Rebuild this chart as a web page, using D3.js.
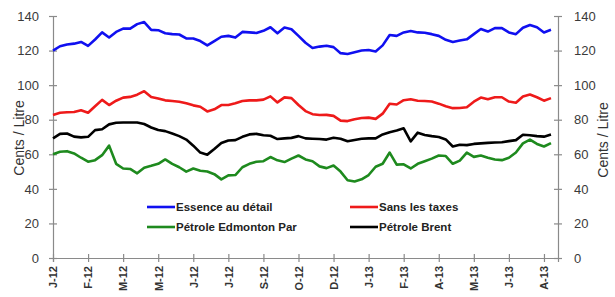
<!DOCTYPE html>
<html>
<head>
<meta charset="utf-8">
<script src="https://cdn.jsdelivr.net/npm/d3@7/dist/d3.min.js"></script>
<style>
body { margin: 0; background: #fff; }
svg { display: block; font-family: "Liberation Sans", Arial, sans-serif; }
</style>
</head>
<body>
<div class="chart"></div>
<script>
// valeurs hebdomadaires, cents / litre
var essence = [120, 122.5, 123.5, 124, 125, 122.7, 126.4, 130.5, 127.6, 130.8,
  132.7, 132.7, 135.3, 136.5, 132, 131.8, 130, 129.5, 129.3, 127,
  127, 125.5, 123, 125.5, 128, 128.5, 127.5, 130.8, 130.5, 130.2,
  131.4, 133.5, 130, 133.3, 132.3, 128.5, 124.5, 121.5, 122.3, 122.8,
  122, 118.5, 118, 119, 120, 120.3, 119.5, 123, 129, 128.5,
  130.5, 131.3, 130.5, 130.3, 129.5, 128.5, 126.2, 125, 125.8, 126.5,
  129.5, 132.5, 131, 133, 133, 130.5, 129.5, 133.2, 134.8, 133.5,
  130.5, 132];
var sansTaxes = [82.7, 84, 84.3, 84.5, 85.5, 84, 87.8, 91.5, 88.5, 91,
  92.8, 93.2, 94.5, 96.5, 93.2, 92.3, 91.2, 90.8, 90.4, 89.5,
  88.3, 87.5, 84.8, 86, 88.5, 88.5, 89.5, 90.8, 91.2, 91.2,
  91.6, 93.5, 90, 92.9, 92.5, 88.5, 85, 83.2, 82.7, 82.8,
  82.2, 79.5, 79.2, 80.3, 81, 81.2, 80.5, 83.5, 89.2, 88.8,
  91.3, 91.8, 91, 90.8, 90.5, 89.3, 87.8, 86.7, 86.8, 87.2,
  90.4, 92.8, 91.8, 93, 93, 90.5, 89.8, 93.4, 94.6, 93,
  91, 92.5];
var edmonton = [60, 61.5, 61.8, 60.5, 58, 55.7, 56.6, 59.5, 65, 54.5,
  51.8, 51.5, 49, 52.2, 53.3, 54.5, 57, 54.5, 52.5, 50,
  51.8, 50.5, 50, 48.5, 45.5, 47.8, 48, 52.5, 54.5, 55.7,
  56, 58.4, 56.5, 55.5, 57.5, 59.3, 57, 56, 53, 52,
  53.5, 50, 45, 44.3, 45.5, 48, 52.8, 54.5, 61, 54,
  54.2, 51.8, 54.5, 56, 57.5, 59.3, 59, 54.5, 56.3, 61,
  58.5, 59.3, 58, 57, 56.6, 58, 61, 66.3, 68.5, 66,
  64.5, 66.5];
var brent = [69.2, 71.8, 72, 70.2, 69.8, 70.1, 74, 74.5, 77.3, 78.2,
  78.4, 78.4, 78.4, 77.5, 75.5, 74, 73.4, 72, 70.5, 68.5,
  65, 61, 59.8, 63, 66.5, 68, 68.2, 70.1, 71.5, 71.8,
  71, 70.7, 68.8, 69.2, 69.5, 70.5, 69.2, 69, 68.8, 68.5,
  69.6, 69, 67.5, 68.3, 69, 69.2, 69.2, 71.5, 72.8, 73.8,
  75, 67.5, 72.5, 71.2, 70.5, 70, 68.6, 64.5, 65.5, 65.3,
  66, 66.3, 66.6, 66.8, 67, 67.6, 68.2, 71.3, 71, 70.5,
  70.2, 71.4];

var tickLabels = ["J-12", "F-12", "M-12", "M-12", "J-12", "J-12", "S-12", "O-12",
  "D-12", "J-13", "F-13", "A-13", "M-13", "J-13", "A-13"];
var tickEvery = 5;
var yTicks = [0, 20, 40, 60, 80, 100, 120, 140];

var series = [
  {name: "Essence au détail", values: essence, color: "#1010f0"},
  {name: "Sans les taxes", values: sansTaxes, color: "#ee1a1a"},
  {name: "Pétrole Brent", values: brent, color: "#000000"},
  {name: "Pétrole Edmonton Par", values: edmonton, color: "#1e8a1e"}
];

var W = 615, H = 297;
var plotL = 53, plotR = 558, plotT = 16, plotB = 258;

var x = d3.scaleLinear().domain([0, 72]).range([plotL, plotR]);
var y = d3.scaleLinear().domain([0, 140]).range([plotB, plotT]);

var svg = d3.select(".chart").append("svg")
  .attr("width", W).attr("height", H);

var axisColor = "#8a8a8a";

// axe gauche
var gl = svg.append("g").attr("transform", "translate(" + plotL + ",0)")
  .call(d3.axisLeft(y).tickValues(yTicks).tickSize(4).tickPadding(10));
// axe droit
var gr = svg.append("g").attr("transform", "translate(" + plotR + ",0)")
  .call(d3.axisRight(y).tickValues(yTicks).tickSize(4).tickPadding(12));
// axe du bas
var tickIdx = tickLabels.map(function(d, i){ return i * tickEvery; });
var gb = svg.append("g").attr("transform", "translate(0," + plotB + ")")
  .call(d3.axisBottom(x).tickValues(tickIdx).tickSize(4)
    .tickFormat(function(d, i){ return tickLabels[i]; }));

[gl, gr, gb].forEach(function(g){
  g.select(".domain").attr("stroke", axisColor).attr("stroke-width", 1.2);
  g.selectAll(".tick line").attr("stroke", axisColor).attr("stroke-width", 1.2);
});
// petites croix sur les axes
gl.selectAll(".tick line").attr("x1", 4);
gr.selectAll(".tick line").attr("x1", -4);
gb.selectAll(".tick line").attr("y1", -4);

gl.selectAll(".tick text").attr("font-size", 13).attr("fill", "#3a3a3a")
  .attr("font-family", "Liberation Sans, Arial");
gr.selectAll(".tick text").attr("font-size", 13).attr("fill", "#3a3a3a")
  .attr("font-family", "Liberation Sans, Arial");
gb.selectAll(".tick text")
  .attr("font-size", 11).attr("font-weight", "bold").attr("fill", "#333")
  .attr("font-family", "Liberation Sans, Arial")
  .attr("transform", "rotate(-90)")
  .attr("text-anchor", "end")
  .attr("x", -8).attr("y", 0).attr("dy", "0.35em");

// titres des axes
svg.append("text")
  .attr("transform", "translate(19,138) rotate(-90)")
  .attr("text-anchor", "middle").attr("dy", "0.35em")
  .attr("font-size", 14).attr("fill", "#333")
  .text("Cents / Litre");
svg.append("text")
  .attr("transform", "translate(603,140) rotate(-90)")
  .attr("text-anchor", "middle").attr("dy", "0.35em")
  .attr("font-size", 14).attr("fill", "#333")
  .text("Cents / Litre");

// lignes
var line = d3.line()
  .x(function(d, i){ return x(i); })
  .y(function(d){ return y(d); });

svg.selectAll("path.serie")
  .data(series)
  .enter().append("path")
  .attr("class", "serie")
  .attr("d", function(d){ return line(d.values); })
  .attr("fill", "none")
  .attr("stroke", function(d){ return d.color; })
  .attr("stroke-width", 2.6)
  .attr("stroke-linejoin", "round");

// légende
var legendItems = [
  {s: series[0], lx: 147, ly: 207},
  {s: series[1], lx: 350, ly: 207},
  {s: series[3], lx: 147, ly: 227},
  {s: series[2], lx: 350, ly: 227}
];
var lg = svg.selectAll("g.legend").data(legendItems).enter().append("g")
  .attr("class", "legend")
  .attr("transform", function(d){ return "translate(" + d.lx + "," + d.ly + ")"; });
lg.append("line")
  .attr("x1", 0).attr("x2", 28).attr("y1", 0).attr("y2", 0)
  .attr("stroke", function(d){ return d.s.color; })
  .attr("stroke-width", 2.6);
lg.append("text")
  .attr("x", 29).attr("dy", "0.35em")
  .attr("font-size", 11.5).attr("font-weight", "bold").attr("fill", "#222")
  .text(function(d){ return d.s.name; });
</script>
</body>
</html>
